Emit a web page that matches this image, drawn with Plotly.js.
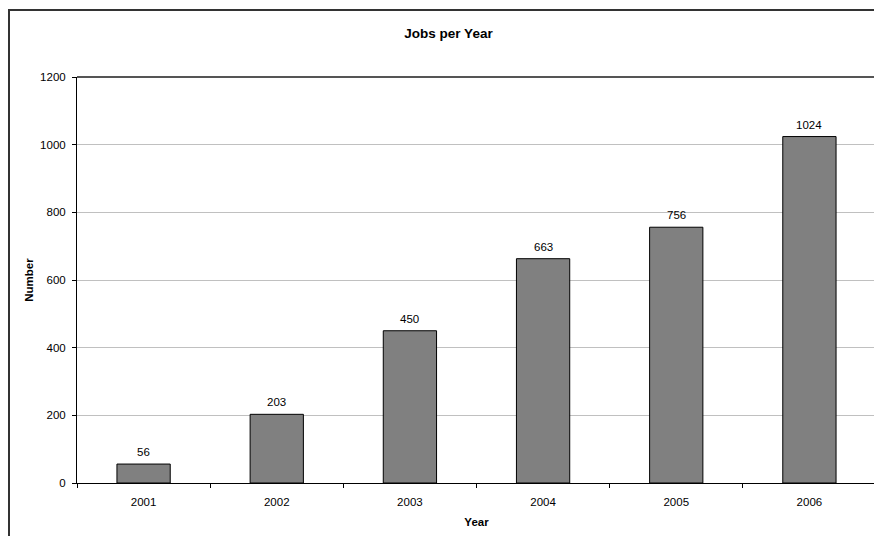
<!DOCTYPE html>
<html>
<head>
<meta charset="utf-8">
<script src="https://cdn.plot.ly/plotly-3.0.1.min.js"></script>
<style>
html,body{margin:0;padding:0;overflow:hidden;background:#fff;}
#chart{width:876px;height:536px;}
</style>
</head>
<body>
<div id="chart"></div>
<script>
var years = ['2001', '2002', '2003', '2004', '2005', '2006'];
var jobs = [56, 203, 450, 663, 756, 1024];
var yTicks = [0, 200, 400, 600, 800, 1000, 1200];

var FONT = 'Liberation Sans, Arial, sans-serif';

var trace = {
  type: 'bar',
  x: years,
  y: jobs,
  width: 0.4,
  marker: {color: '#808080', line: {color: '#000000', width: 1}},
  hoverinfo: 'x+y'
};

var annotations = years.map(function (yr, i) {
  return {
    x: i, y: jobs[i], xref: 'x', yref: 'y',
    text: String(jobs[i]), showarrow: false,
    yanchor: 'middle', yshift: 12,
    font: {family: FONT, size: 11.5, color: '#000'}
  };
});

var layout = {
  width: 876, height: 536,
  margin: {l: 77, r: 0, t: 77, b: 53, pad: 0},
  paper_bgcolor: '#ffffff',
  plot_bgcolor: '#ffffff',
  font: {family: FONT, size: 11.5, color: '#000'},
  showlegend: false,
  title: {
    text: '<b>Jobs per Year</b>',
    font: {family: FONT, size: 13.5, color: '#000'},
    xref: 'container', x: 0.512, xanchor: 'center',
    yref: 'container', y: 1 - 33 / 536, yanchor: 'middle'
  },
  xaxis: {
    type: 'category',
    range: [-0.5, years.length - 0.5],
    autorange: false,
    showgrid: false,
    showline: true, linecolor: '#000', linewidth: 1,
    ticks: 'outside', tickson: 'boundaries', ticklen: 4, tickcolor: '#000', tickwidth: 1,
    ticklabelstandoff: 8,
    tickfont: {family: FONT, size: 11.5, color: '#000'},
    title: {text: '<b>Year</b>', font: {family: FONT, size: 11.5, color: '#000'}, standoff: 11},
    zeroline: false, fixedrange: true
  },
  yaxis: {
    range: [0, 1200],
    autorange: false,
    tickvals: yTicks,
    ticktext: yTicks.map(String),
    showgrid: true, gridcolor: '#c0c0c0', gridwidth: 1,
    showline: true, linecolor: '#000', linewidth: 1,
    ticks: 'outside', ticklen: 4, tickcolor: '#000', tickwidth: 1,
    ticklabelstandoff: 4,
    tickfont: {family: FONT, size: 11.5, color: '#000'},
    title: {text: '<b>Number</b>', font: {family: FONT, size: 11.5, color: '#000'}, standoff: 4},
    zeroline: false, fixedrange: true
  },
  annotations: annotations,
  shapes: [
    {type: 'line', xref: 'paper', yref: 'paper', x0: 0, x1: 1.01, y0: 1, y1: 1,
     line: {color: '#555555', width: 2}},
    {type: 'rect', xref: 'paper', yref: 'paper',
     x0: (9 - 77) / 799, x1: 1.2, y0: (483 - 10) / 406, y1: -0.3,
     line: {color: '#333333', width: 2}, fillcolor: 'rgba(0,0,0,0)', layer: 'above'}
  ]
};

Plotly.newPlot('chart', [trace], layout, {displayModeBar: false, staticPlot: true});
</script>
</body>
</html>
